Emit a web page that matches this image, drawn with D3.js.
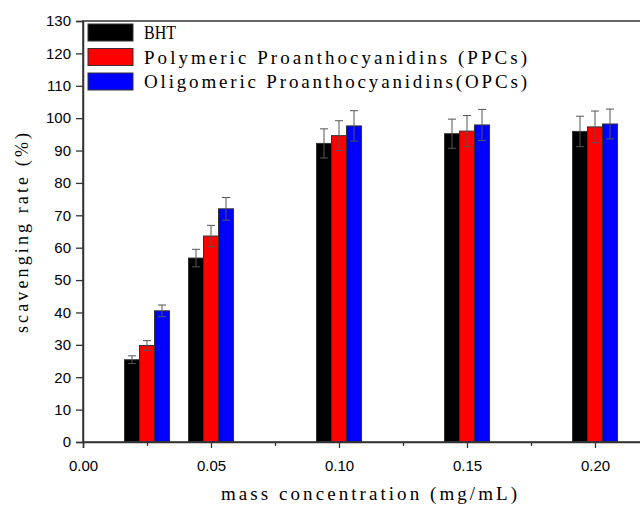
<!DOCTYPE html>
<html>
<head>
<meta charset="utf-8">
<script src="https://cdn.jsdelivr.net/npm/d3@7/dist/d3.min.js"></script>
<style>
  body { margin: 0; background: #fff; }
  .tick text { font-family: "Liberation Sans", Arial, sans-serif; font-size: 15px; fill: #000; }
  .serif { font-family: "Liberation Serif", "Times New Roman", serif; fill: #000; }
</style>
</head>
<body>
<div id="chart"></div>
<script>
// data
var concentrations = [0.025, 0.05, 0.10, 0.15, 0.20];
var seriesNames = ["BHT", "Polymeric Proanthocyanidins (PPCs)", "Oligomeric Proanthocyanidins(OPCs)"];
var seriesColors = ["#000000", "#ff0000", "#0000ff"];
var bhtValues = [25.4, 56.8, 92.2, 95.2, 95.9];
var bhtErrors = [1.2, 2.7, 4.5, 4.5, 4.7];
var ppcValues = [29.8, 63.6, 94.6, 96.0, 97.3];
var ppcErrors = [1.5, 3.3, 4.6, 4.8, 4.9];
var opcValues = [40.5, 72.0, 97.6, 97.9, 98.2];
var opcErrors = [1.8, 3.5, 4.7, 4.8, 4.6];
var xTickValues = [0, 0.05, 0.10, 0.15, 0.20];
var xMinorTicks = [0.025, 0.075, 0.125, 0.175];
var yTickValues = d3.range(0, 131, 10);

var width = 640;
var height = 505;
var plotLeft = 83;
var plotTop = 21;
var plotBottom = 442;

var svg = d3.select("#chart")
  .append("svg")
  .attr("width", width)
  .attr("height", height);

var x = d3.scaleLinear().domain([0, 0.22]).range([plotLeft, plotLeft + 0.22 * 2560]);
var y = d3.scaleLinear().domain([0, 130]).range([plotBottom, plotTop]);

var barW = 15;
var series = [
  { values: bhtValues, errors: bhtErrors },
  { values: ppcValues, errors: ppcErrors },
  { values: opcValues, errors: opcErrors }
];

// bars
series.forEach(function(s, i) {
  var g = svg.append("g");
  g.selectAll("rect")
    .data(concentrations)
    .enter()
    .append("rect")
    .attr("x", function(c) { return x(c) + (i - 1.5) * barW; })
    .attr("y", function(c, j) { return y(s.values[j]); })
    .attr("width", barW)
    .attr("height", function(c, j) { return y(0) - y(s.values[j]); })
    .attr("fill", seriesColors[i])
    .attr("stroke", "#333")
    .attr("stroke-width", 1);

  // error bars
  var e = g.selectAll("g.err")
    .data(concentrations)
    .enter()
    .append("g")
    .attr("class", "err")
    .attr("stroke", "#555")
    .attr("stroke-width", 1);
  e.append("line")
    .attr("x1", function(c) { return x(c) + (i - 1) * barW; })
    .attr("x2", function(c) { return x(c) + (i - 1) * barW; })
    .attr("y1", function(c, j) { return y(s.values[j] + s.errors[j]); })
    .attr("y2", function(c, j) { return y(s.values[j] - s.errors[j]); });
  [1, -1].forEach(function(sign) {
    e.append("line")
      .attr("x1", function(c) { return x(c) + (i - 1) * barW - 4; })
      .attr("x2", function(c) { return x(c) + (i - 1) * barW + 4; })
      .attr("y1", function(c, j) { return y(s.values[j] + sign * s.errors[j]); })
      .attr("y2", function(c, j) { return y(s.values[j] + sign * s.errors[j]); });
  });
});

// frame
svg.append("rect")
  .attr("x", x(0))
  .attr("y", y(130))
  .attr("width", x(0.22) - x(0))
  .attr("height", y(0) - y(130))
  .attr("fill", "none")
  .attr("stroke", "#333")
  .attr("stroke-width", 1.5);

// axes
var xAxis = svg.append("g")
  .attr("transform", "translate(0," + y(0) + ")")
  .call(d3.axisBottom(x).tickValues(xTickValues).tickFormat(d3.format(".2f")).tickSize(6).tickPadding(12));
xAxis.select(".domain").attr("stroke", "#333").attr("stroke-width", 1.5);
xAxis.selectAll(".tick line").attr("stroke", "#333").attr("stroke-width", 1.3);

svg.append("g")
  .attr("transform", "translate(0," + y(0) + ")")
  .call(d3.axisBottom(x).tickValues(xMinorTicks).tickFormat("").tickSize(4))
  .call(function(g) { g.select(".domain").remove(); })
  .selectAll(".tick line").attr("stroke", "#333").attr("stroke-width", 1.3);

var yAxis = svg.append("g")
  .attr("transform", "translate(" + x(0) + ",0)")
  .call(d3.axisLeft(y).tickValues(yTickValues).tickSize(7).tickPadding(5));
yAxis.select(".domain").attr("stroke", "#333").attr("stroke-width", 1.5);
yAxis.selectAll(".tick line").attr("stroke", "#333").attr("stroke-width", 1.3);

// axis titles
svg.append("text")
  .attr("class", "serif")
  .attr("x", 221)
  .attr("y", 500)
  .attr("font-size", 19)
  .attr("textLength", 296)
  .attr("lengthAdjust", "spacing")
  .text("mass concentration (mg/mL)");

svg.append("text")
  .attr("class", "serif")
  .attr("transform", "translate(28,333) rotate(-90)")
  .attr("font-size", 18)
  .attr("textLength", 200)
  .attr("lengthAdjust", "spacing")
  .text("scavenging rate (%)");

// legend
var legendLengths = [32, 383, 383];
var legendAdjust = ["spacingAndGlyphs", "spacing", "spacing"];
var legend = svg.append("g");
seriesNames.forEach(function(name, i) {
  var ly = 24 + i * 24.5;
  legend.append("rect")
    .attr("x", 88)
    .attr("y", ly)
    .attr("width", 45)
    .attr("height", 17)
    .attr("fill", seriesColors[i])
    .attr("stroke", "#333")
    .attr("stroke-width", 1);
  legend.append("text")
    .attr("class", "serif")
    .attr("x", 144)
    .attr("y", ly + 15)
    .attr("font-size", 19)
    .attr("textLength", legendLengths[i])
    .attr("lengthAdjust", legendAdjust[i])
    .text(name);
});
</script>
</body>
</html>
